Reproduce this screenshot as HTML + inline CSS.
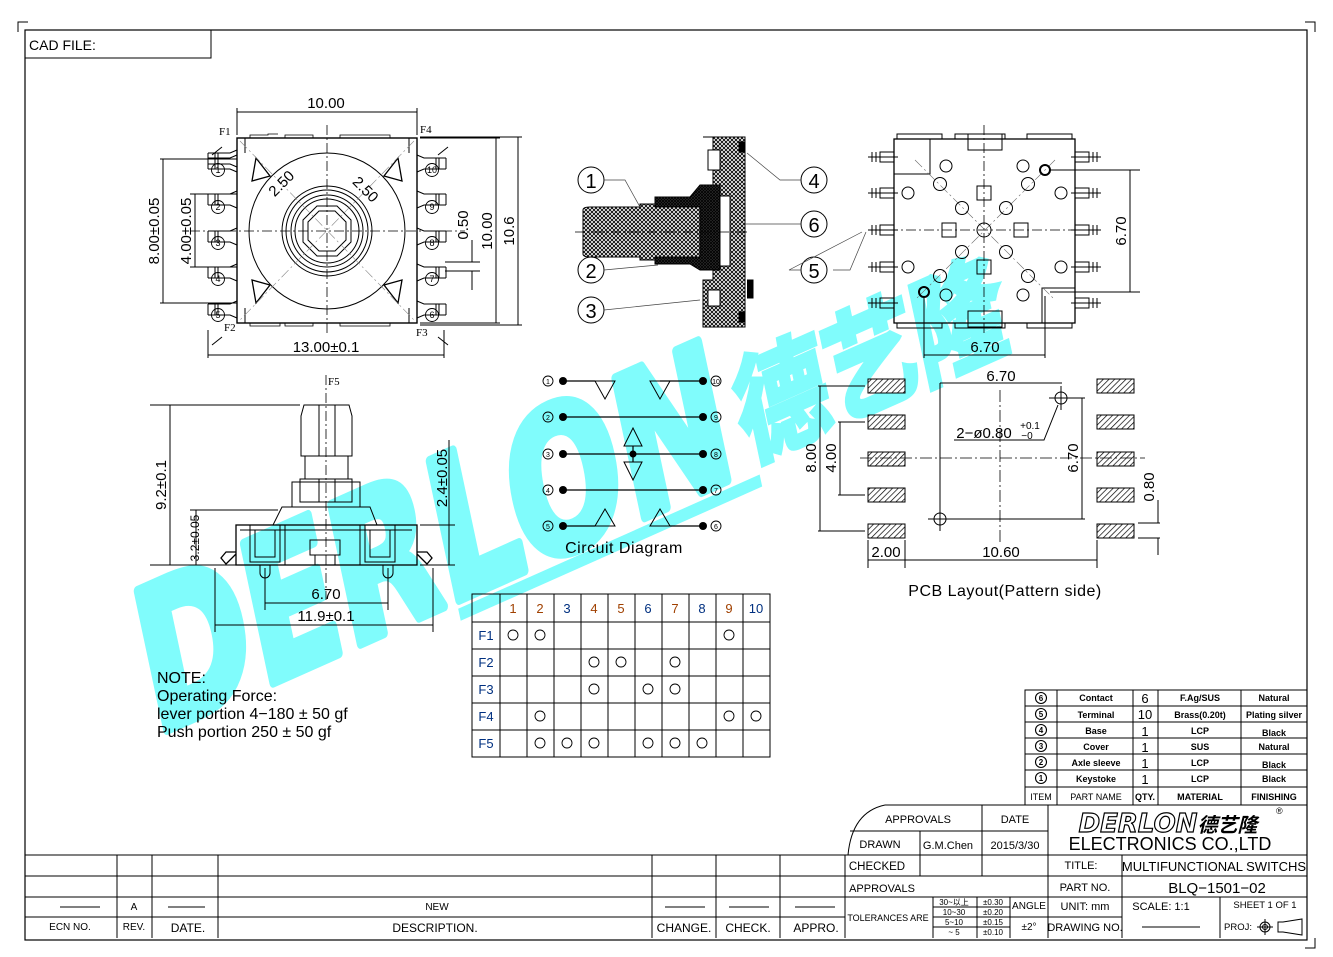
<!DOCTYPE html>
<html><head><meta charset="utf-8"><style>
html,body{margin:0;padding:0;background:#fff}
svg{display:block}
text{font-family:"Liberation Sans","Noto Sans CJK SC",sans-serif;fill:#000}
.s{font-family:"Liberation Serif",serif}
</style></head><body>
<svg width="1333" height="957" viewBox="0 0 1333 957" xmlns="http://www.w3.org/2000/svg">
<defs>
<pattern id="xh" width="4" height="4" patternUnits="userSpaceOnUse">
<rect width="4" height="4" fill="#fff"/><path d="M0 0L4 4M4 0L0 4" stroke="#000" stroke-width="0.9"/></pattern>
<pattern id="xd" width="3" height="3" patternUnits="userSpaceOnUse">
<rect width="3" height="3" fill="#333"/><path d="M0 0L3 3M3 0L0 3" stroke="#000" stroke-width="0.8"/></pattern>
<pattern id="dh" width="4" height="4" patternUnits="userSpaceOnUse" patternTransform="rotate(45)">
<rect width="4" height="4" fill="#fff"/><line x1="0" y1="0" x2="0" y2="4" stroke="#000" stroke-width="1.4"/></pattern>
</defs>

<!-- watermark -->
<g transform="translate(155,735) rotate(-24) skewX(-12)">
<text x="0" y="0" font-size="190" font-weight="bold" textLength="640" lengthAdjust="spacingAndGlyphs" style="fill:#80fcfc;stroke:#80fcfc;stroke-width:10;stroke-linejoin:round;font-family:'DejaVu Sans',sans-serif">DERLON</text>
<text x="650" y="-10" font-size="115" font-weight="bold" textLength="290" lengthAdjust="spacingAndGlyphs" style="fill:#80fcfc;stroke:#80fcfc;stroke-width:5;font-family:'Noto Sans CJK SC',sans-serif">德艺隆</text>
<rect x="330" y="8" width="330" height="12" fill="#80fcfc"/>
</g>

<g fill="none" stroke="#000" stroke-width="1">
<rect x="25" y="30" width="1282" height="910" stroke-width="1.2"/>
<path d="M18 32V22H28M1305 22H1315V32M1315 938V948H1305"/>
<rect x="25" y="30" width="186" height="28"/>
</g>
<text x="29" y="50" font-size="14">CAD  FILE:</text>

<!-- TOP VIEW -->
<g fill="none" stroke="#000" stroke-width="1">
<rect x="237" y="138" width="180" height="185" stroke-width="1.4"/>
<path d="M245 138v15 M409 138v15 M245 323v-15 M409 323v-15" />
<path d="M250 138v-3h18v-1h10 M285 138v-3h28v3 M340 138v-3h50v3 M250 323v3h30v-3 M285 323v3h28v-3 M340 323v3h50v-3" stroke-width="0.8"/>
<circle cx="327" cy="231" r="78"/>
<circle cx="327" cy="231" r="45"/><circle cx="327" cy="231" r="41"/><circle cx="327" cy="231" r="36"/><circle cx="327" cy="231" r="32"/>
<polygon points="317,206 337,206 351,220 351,242 337,256 317,256 303,242 303,220"/>
<polygon points="319,211 335,211 346,222 346,240 335,251 319,251 308,240 308,222"/>
<path d="M256 158l14 18-18 5z M398 158l-14 18 18 5z M256 303l14-18-18-5z M398 303l-14-18 18-5z" stroke-width="1.3"/>
<path d="M240 141L414 320M414 141L240 320" stroke="#888" stroke-width="0.6" stroke-dasharray="10 3 2 3"/>
<path d="M327 125V335M190 231H465" stroke-dasharray="10 3 2 3" stroke-width="0.8"/>
<g id="pl">
<path d="M208 153h22l7-3 M208 164h22l7 3 M208 153v11 M215 153v11 M218 153v11"/>
</g>
<use href="#pl" y="5"/><use href="#pl" y="41"/><use href="#pl" y="78"/><use href="#pl" y="114"/><use href="#pl" y="151"/>
<g transform="translate(654,0) scale(-1,1)">
<use href="#pl" y="5"/><use href="#pl" y="41"/><use href="#pl" y="78"/><use href="#pl" y="114"/><use href="#pl" y="151"/>
</g>
<g stroke-width="0.9">
<circle cx="218" cy="170" r="6.5"/><circle cx="218" cy="207" r="6.5"/><circle cx="218" cy="243" r="6.5"/><circle cx="218" cy="279" r="6.5"/><circle cx="218" cy="315" r="6.5"/>
<circle cx="432" cy="170" r="6.5"/><circle cx="432" cy="207" r="6.5"/><circle cx="432" cy="243" r="6.5"/><circle cx="432" cy="279" r="6.5"/><circle cx="432" cy="315" r="6.5"/>
</g>
<path d="M237 135V108M417 135V108M237 112H417 M208 330V358M444 330V358M208 355H444"/>
<path d="M160 159H237M160 303H237M163 159V303M190 194H237M190 267H237M195 194V267"/>
<path d="M420 138H500M420 323H500M496 138V323M420 137H522M420 325H522M518 137V325"/>
<path d="M445 262H480M445 271H480M472 240V262M472 271V290"/>
<path d="M212 155l10-8M438 155l10-8M212 345l10-8M438 337l10 8"/>
</g>
<g class="s" font-size="11">
<text class="s" x="219" y="135">F1</text><text class="s" x="420" y="133">F4</text>
<text class="s" x="224" y="331">F2</text><text class="s" x="416" y="336">F3</text>
</g>
<g font-size="9" text-anchor="middle">
<text x="218" y="173">1</text><text x="218" y="210">2</text><text x="218" y="246">3</text><text x="218" y="282">4</text><text x="218" y="318">5</text>
<text x="432" y="173">10</text><text x="432" y="210">9</text><text x="432" y="246">8</text><text x="432" y="282">7</text><text x="432" y="318">6</text>
</g>
<g font-size="15" text-anchor="middle">
<text x="326" y="108">10.00</text>
<text x="326" y="352">13.00±0.1</text>
<text transform="translate(159,231) rotate(-90)">8.00±0.05</text>
<text transform="translate(191,231) rotate(-90)">4.00±0.05</text>
<text transform="translate(468,225) rotate(-90)">0.50</text>
<text transform="translate(492,231) rotate(-90)">10.00</text>
<text transform="translate(514,231) rotate(-90)">10.6</text>
<text transform="translate(285,187) rotate(-45)">2.50</text>
<text transform="translate(362,193) rotate(45)">2.50</text>
</g>

<!-- SECTION VIEW -->
<g stroke="#000" stroke-width="1">
<path d="M703 137H745V327H703V280H713V267H720V197H713V137Z" fill="url(#xh)"/>
<rect x="708" y="150" width="12" height="20" fill="#fff"/><rect x="708" y="290" width="12" height="16" fill="#fff"/>
<path d="M583 210Q583 207 590 207H640V204H720V260H640V257H590Q583 257 583 254Z" fill="url(#xh)"/>
<path d="M655 197H690L700 185H720V270H700L690 264H655V257H700V207H655Z" fill="url(#xd)"/>
<rect x="720" y="196" width="10" height="70" fill="#fff"/>
<path d="M745 142h-6v10h6M745 312h-6v10h6M747 280h6v18h-6"/>
<path d="M575 232H750" stroke-dasharray="10 3 2 3" stroke-width="0.7"/>
</g>
<g fill="none" stroke="#000" stroke-width="1">
<circle cx="591" cy="180" r="13"/><circle cx="591" cy="270" r="13"/><circle cx="591" cy="310" r="13"/>
<circle cx="814" cy="180" r="13"/><circle cx="814" cy="224" r="13"/><circle cx="814" cy="270" r="13"/>
</g>
<g fill="none" stroke="#444" stroke-width="0.7">
<path d="M604 180H625L640 207M604 270L658 265M604 310L700 300M801 180H780L747 153M801 224H745M801 270H789L862 232"/>
</g>
<g font-size="20" text-anchor="middle">
<text x="591" y="188">1</text><text x="591" y="278">2</text><text x="591" y="318">3</text>
<text x="814" y="188">4</text><text x="814" y="232">6</text><text x="814" y="278">5</text>
</g>

<!-- BOTTOM VIEW -->
<g fill="none" stroke="#000" stroke-width="1">
<rect x="894" y="139" width="181" height="184" stroke-width="1.3"/>
<path d="M897 139v-5h45v5M955 139v-5h50v5M1027 139v-5h45v5M897 323v5h45v-5M955 323v5h50v-5M1027 323v5h45v-5"/>
<path d="M894 174H930V139M1075 288H1042V323"/>
<rect x="968" y="134" width="34" height="16"/><rect x="968" y="311" width="34" height="16"/>
<path d="M984 125V335M870 230H1100" stroke-dasharray="10 3 2 3" stroke-width="0.8"/>
<path d="M915 160L1055 300M1055 160L915 300" stroke="#666" stroke-width="0.6" stroke-dasharray="10 3 2 3"/>
<circle cx="984" cy="230" r="7"/>
<circle cx="940" cy="184" r="6.5"/><circle cx="962" cy="208" r="6.5"/><circle cx="1006" cy="208" r="6.5"/><circle cx="1028" cy="184" r="6.5"/>
<circle cx="962" cy="252" r="6.5"/><circle cx="940" cy="276" r="6.5"/><circle cx="1006" cy="252" r="6.5"/><circle cx="1028" cy="276" r="6.5"/>
<circle cx="946" cy="166" r="6"/><circle cx="1023" cy="166" r="6"/><circle cx="946" cy="295" r="6"/><circle cx="1023" cy="295" r="6"/>
<circle cx="908" cy="193" r="6"/><circle cx="1061" cy="193" r="6"/><circle cx="908" cy="267" r="6"/><circle cx="1061" cy="267" r="6"/>
<circle cx="1045" cy="170" r="5" stroke-width="2"/><circle cx="924" cy="292" r="5" stroke-width="2"/>
<rect x="977" y="186" width="14" height="14"/><rect x="977" y="260" width="14" height="14"/>
<rect x="942" y="223" width="14" height="14"/><rect x="1014" y="223" width="14" height="14"/>
<g id="pb"><path d="M894 152h-14v10h14 M868 157h30 M872 152v10 M876 152v10 M880 152v10"/></g>
<use href="#pb" y="0"/><use href="#pb" y="36"/><use href="#pb" y="73"/><use href="#pb" y="110"/><use href="#pb" y="146"/>
<g transform="translate(1969,0) scale(-1,1)"><use href="#pb" y="0"/><use href="#pb" y="36"/><use href="#pb" y="73"/><use href="#pb" y="110"/><use href="#pb" y="146"/></g>
<path d="M1050 170H1140M1050 292H1140M1130 170V292M924 296V358M1045 296V358M924 355H1045"/>
<path d="M866 232L850 270H833" stroke="#444" stroke-width="0.7"/>
</g>
<g font-size="15" text-anchor="middle">
<text x="985" y="352">6.70</text>
<text transform="translate(1126,231) rotate(-90)">6.70</text>
</g>

<!-- SIDE VIEW -->
<g fill="none" stroke="#000" stroke-width="1">
<path d="M304 405H349L352 416V456H301V416Z"/>
<path d="M319 405V456M335 405V456M305 456V479H348V456M300 479H352V502H300Z M319 479V502M335 479V502"/>
<rect x="292" y="482" width="68" height="25"/>
<path d="M282 507H370L377 525H273Z"/>
<rect x="236" y="525" width="181" height="40" stroke-width="1.3"/>
<path d="M240 530H412 M250 525v37h30v-37 M255 530v27h20v-27 M365 525v37h30v-37 M370 530v27h20v-27 M285 525v40 M360 525v40 M310 540h30v15h-30z M315 555v10 M335 555v10"/>
<path d="M260 565v8a5 5 0 0 0 10 0v-8 M383 565v8a5 5 0 0 0 10 0v-8"/>
<path d="M236 552h-10l-5 6 5 6 10-10 M417 552h10l5 6-5 6-10-10" stroke-width="1.3"/>
<path d="M326 375V600" stroke-dasharray="10 3 2 3" stroke-width="0.8"/>
<path d="M150 405H300M150 565H236M170 405V565M190 510H278M196 510V565M420 525H455M420 565H455M449 440V565"/>
<path d="M265 568V610M388 568V610M265 603H388M215 568V632M433 568V632M215 625H433"/>
</g>
<text class="s" x="328" y="385" font-size="11">F5</text>
<g font-size="15" text-anchor="middle">
<text transform="translate(166,485) rotate(-90)">9.2±0.1</text>
<text transform="translate(199,538) rotate(-90)" font-size="12">3.2±0.05</text>
<text transform="translate(447,478) rotate(-90)">2.4±0.05</text>
<text x="326" y="599">6.70</text>
<text x="326" y="621">11.9±0.1</text>
</g>

<!-- CIRCUIT -->
<g stroke="#000" stroke-width="1.2" fill="none">
<path d="M563 381H595 M660 381H703 M563 417H703 M563 454H703 M563 490H703 M563 526H595 M670 526H703"/>
<path d="M595 381H615L605 399Z M650 381H670L660 399Z M624 446H642L633 428Z M624 462H642L633 480Z M595 526H615L605 509Z M650 526H670L660 509Z" stroke-width="1"/>
<path d="M633 446V462"/>
</g>
<g fill="#000">
<circle cx="563" cy="381" r="4"/><circle cx="563" cy="417" r="4"/><circle cx="563" cy="454" r="4"/><circle cx="563" cy="490" r="4"/><circle cx="563" cy="526" r="4"/>
<circle cx="703" cy="381" r="4"/><circle cx="703" cy="417" r="4"/><circle cx="703" cy="454" r="4"/><circle cx="703" cy="490" r="4"/><circle cx="703" cy="526" r="4"/>
<circle cx="633" cy="454" r="3.5"/>
</g>
<g fill="none" stroke="#000" stroke-width="0.9">
<circle cx="548" cy="381" r="5"/><circle cx="548" cy="417" r="5"/><circle cx="548" cy="454" r="5"/><circle cx="548" cy="490" r="5"/><circle cx="548" cy="526" r="5"/>
<circle cx="716" cy="381" r="5"/><circle cx="716" cy="417" r="5"/><circle cx="716" cy="454" r="5"/><circle cx="716" cy="490" r="5"/><circle cx="716" cy="526" r="5"/>
</g>
<g font-size="7" text-anchor="middle">
<text x="548" y="384">1</text><text x="548" y="420">2</text><text x="548" y="457">3</text><text x="548" y="493">4</text><text x="548" y="529">5</text>
<text x="716" y="384">10</text><text x="716" y="420">9</text><text x="716" y="457">8</text><text x="716" y="493">7</text><text x="716" y="529">6</text>
</g>
<text x="624" y="553" font-size="16" text-anchor="middle" letter-spacing="0.5">Circuit  Diagram</text>

<!-- PCB LAYOUT -->
<g stroke="#000" stroke-width="1">
<g fill="url(#dh)">
<rect x="868" y="379" width="37" height="14"/><rect x="868" y="415" width="37" height="14"/><rect x="868" y="452" width="37" height="14"/><rect x="868" y="488" width="37" height="14"/><rect x="868" y="524" width="37" height="14"/>
<rect x="1097" y="379" width="37" height="14"/><rect x="1097" y="415" width="37" height="14"/><rect x="1097" y="452" width="37" height="14"/><rect x="1097" y="488" width="37" height="14"/><rect x="1097" y="524" width="37" height="14"/>
</g>
<g fill="none">
<path d="M860 458H1145M1000 390V545" stroke-dasharray="12 3 2 3" stroke-width="0.8"/>
<path d="M940 383V520M940 383H1062M940 519H1085M1062 398H1085M1082 398V519"/>
<circle cx="940" cy="519" r="6"/><path d="M928 519H952M940 507V531"/>
<circle cx="1061" cy="398" r="6"/><path d="M1049 398H1073M1061 386V410"/>
<path d="M1058 405L1044 440H954"/>
<path d="M865 386H818M820 386V531M865 531H818M865 422H838M840 422V495M865 495H838"/>
<path d="M868 540V568M905 540V568M1097 540V568M868 560H905M905 560H1097"/>
<path d="M1138 523H1160M1138 538H1160M1158 500V523M1158 538V555"/>
</g>
</g>
<g font-size="15" text-anchor="middle">
<text x="1001" y="381">6.70</text>
<text x="984" y="438">2−ø0.80</text>
<text x="1030" y="429" font-size="10">+0.1</text>
<text x="1027" y="439" font-size="10">−0</text>
<text transform="translate(816,458) rotate(-90)">8.00</text>
<text transform="translate(836,458) rotate(-90)">4.00</text>
<text transform="translate(1078,458) rotate(-90)">6.70</text>
<text transform="translate(1154,487) rotate(-90)">0.80</text>
<text x="886" y="557">2.00</text>
<text x="1001" y="557">10.60</text>
<text x="1005" y="596" font-size="16" letter-spacing="0.5">PCB  Layout(Pattern  side)</text>
</g>

<!-- SWITCH TABLE -->
<g stroke="#000" stroke-width="1" fill="none">
<rect x="472" y="594" width="298" height="163"/>
<path d="M472 622H770M472 649H770M472 676H770M472 703H770M472 730H770"/>
<path d="M500 594V757M527 594V757M554 594V757M581 594V757M608 594V757M635 594V757M662 594V757M689 594V757M716 594V757M743 594V757"/>
<g stroke-width="0.9">
<circle cx="513" cy="635" r="5"/><circle cx="540" cy="635" r="5"/><circle cx="729" cy="635" r="5"/>
<circle cx="594" cy="662" r="5"/><circle cx="621" cy="662" r="5"/><circle cx="675" cy="662" r="5"/>
<circle cx="594" cy="689" r="5"/><circle cx="648" cy="689" r="5"/><circle cx="675" cy="689" r="5"/>
<circle cx="540" cy="716" r="5"/><circle cx="729" cy="716" r="5"/><circle cx="756" cy="716" r="5"/>
<circle cx="540" cy="743" r="5"/><circle cx="567" cy="743" r="5"/><circle cx="594" cy="743" r="5"/><circle cx="648" cy="743" r="5"/><circle cx="675" cy="743" r="5"/><circle cx="702" cy="743" r="5"/>
</g>
</g>
<g font-size="13" text-anchor="middle" style="font-family:'Liberation Serif',serif">
<text x="513" y="613" style="fill:#a04000">1</text><text x="540" y="613" style="fill:#a04000">2</text><text x="567" y="613" style="fill:#003080">3</text><text x="594" y="613" style="fill:#a04000">4</text><text x="621" y="613" style="fill:#a04000">5</text><text x="648" y="613" style="fill:#003080">6</text><text x="675" y="613" style="fill:#a04000">7</text><text x="702" y="613" style="fill:#003080">8</text><text x="729" y="613" style="fill:#a04000">9</text><text x="756" y="613" style="fill:#003080">10</text>
<text x="486" y="640" style="fill:#003080">F1</text><text x="486" y="667" style="fill:#003080">F2</text><text x="486" y="694" style="fill:#003080">F3</text><text x="486" y="721" style="fill:#003080">F4</text><text x="486" y="748" style="fill:#003080">F5</text>
</g>

<!-- NOTE -->
<g font-size="16">
<text x="157" y="683">NOTE:</text>
<text x="157" y="701">Operating  Force:</text>
<text x="157" y="719">lever  portion  4−180  ±  50  gf</text>
<text x="157" y="737">Push  portion  250  ±  50  gf</text>
</g>

<!-- BOM -->
<g stroke="#000" stroke-width="1" fill="none">
<rect x="1025" y="690" width="282" height="115"/>
<path d="M1025 706H1307M1025 722H1307M1025 738H1307M1025 754H1307M1025 770H1307M1025 787H1307"/>
<path d="M1057 690V805M1133 690V805M1158 690V805M1241 690V805"/>
</g>
<g font-size="9" text-anchor="middle" font-weight="bold">
<text x="1096" y="701">Contact</text><text x="1096" y="718">Terminal</text><text x="1096" y="734">Base</text><text x="1096" y="750">Cover</text><text x="1096" y="766">Axle  sleeve</text><text x="1096" y="782">Keystoke</text><text x="1096" y="800" font-weight="normal">PART  NAME</text>
<text x="1145" y="703" font-size="13" font-weight="normal">6</text><text x="1145" y="719" font-size="13" font-weight="normal">10</text><text x="1145" y="736" font-size="13" font-weight="normal">1</text><text x="1145" y="752" font-size="13" font-weight="normal">1</text><text x="1145" y="768" font-size="13" font-weight="normal">1</text><text x="1145" y="784" font-size="13" font-weight="normal">1</text><text x="1145" y="800">QTY.</text>
<text x="1200" y="701">F.Ag/SUS</text><text x="1200" y="718">Brass(0.20t)</text><text x="1200" y="734">LCP</text><text x="1200" y="750">SUS</text><text x="1200" y="766">LCP</text><text x="1200" y="782">LCP</text><text x="1200" y="800">MATERIAL</text>
<text x="1274" y="701">Natural</text><text x="1274" y="718">Plating  silver</text><text x="1274" y="736">Black</text><text x="1274" y="750">Natural</text><text x="1274" y="768">Black</text><text x="1274" y="782">Black</text><text x="1274" y="800">FINISHING</text>
<text x="1041" y="800" font-weight="normal">ITEM</text>
</g>
<g fill="none" stroke="#000" stroke-width="1.1">
<circle cx="1041" cy="698" r="5.5"/><circle cx="1041" cy="714" r="5.5"/><circle cx="1041" cy="730" r="5.5"/><circle cx="1041" cy="746" r="5.5"/><circle cx="1041" cy="762" r="5.5"/><circle cx="1041" cy="778" r="5.5"/>
</g>
<g font-size="8" text-anchor="middle" font-weight="bold">
<text x="1041" y="701">6</text><text x="1041" y="717">5</text><text x="1041" y="733">4</text><text x="1041" y="749">3</text><text x="1041" y="765">2</text><text x="1041" y="781">1</text>
</g>

<!-- TITLE BLOCK -->
<g stroke="#000" stroke-width="1" fill="none">
<path d="M885 805H1048V855 M848 855Q852 812 885 805"/>
<path d="M850 831H1048M920 831V876M982 805V876M1048 805V938M1048 855H1307"/>
<path d="M25 855H1048M25 876H1307M25 897H1307M25 917H845M1048 917H1122"/>
<path d="M117 855V938M152 855V938M218 855V938M652 855V938M716 855V938M780 855V938M845 855V938"/>
<path d="M1122 855V938M1220 897V938M933 897V938M977 897V938M1010 897V938M933 907H1010M933 917H1010M933 927H1010"/>
<path d="M1010 917H1048"/>
<path d="M60 907H100M168 907H205M665 907H705M729 907H769M795 907H835M1142 927H1200"/>
</g>
<g font-size="11" text-anchor="middle">
<text x="918" y="823">APPROVALS</text><text x="1015" y="823">DATE</text>
<text x="880" y="848">DRAWN</text><text x="948" y="849">G.M.Chen</text><text x="1015" y="849">2015/3/30</text>
<text x="877" y="870" font-size="11.5">CHECKED</text><text x="882" y="892">APPROVALS</text>
<text x="888" y="921" font-size="9">TOLERANCES  ARE</text>
<text x="954" y="905" font-size="8">30~以上</text><text x="954" y="915" font-size="8">10~30</text><text x="954" y="925" font-size="8">5~10</text><text x="954" y="935" font-size="8">~ 5</text>
<text x="993" y="905" font-size="8">±0.30</text><text x="993" y="915" font-size="8">±0.20</text><text x="993" y="925" font-size="8">±0.15</text><text x="993" y="935" font-size="8">±0.10</text>
<text x="1029" y="909" font-size="10">ANGLE</text><text x="1029" y="930" font-size="10">±2°</text>
<text x="1081" y="869">TITLE:</text><text x="1085" y="891">PART  NO.</text>
<text x="1085" y="910">UNIT:  mm</text><text x="1085" y="931">DRAWING  NO.</text>
<text x="1214" y="871" font-size="13">MULTIFUNCTIONAL  SWITCHS</text>
<text x="1217" y="893" font-size="15">BLQ−1501−02</text>
<text x="1161" y="910">SCALE:    1:1</text>
<text x="1265" y="908" font-size="9.5">SHEET   1  OF  1</text>
<text x="1238" y="930" font-size="9.5">PROJ:</text>
<text x="1170" y="850" font-size="18">ELECTRONICS  CO.,LTD</text>
<text x="70" y="930" font-size="10">ECN  NO.</text><text x="134" y="930" font-size="10">REV.</text><text x="188" y="932" font-size="12">DATE.</text>
<text x="435" y="932" font-size="12">DESCRIPTION.</text><text x="684" y="932" font-size="12">CHANGE.</text><text x="748" y="932" font-size="12">CHECK.</text><text x="816" y="932" font-size="12">APPRO.</text>
<text x="134" y="910" font-size="10">A</text><text x="437" y="910" font-size="10">NEW</text>
</g>
<g fill="none" stroke="#000" stroke-width="1">
<circle cx="1265" cy="927" r="5"/><circle cx="1265" cy="927" r="2.5"/><path d="M1257 927H1273M1265 919V935M1278 922H1283L1302 919V935L1283 932H1278Z"/>
</g>
<text x="1168" y="832" font-size="26" font-weight="bold" font-style="italic" text-anchor="middle" style="fill:#fff;stroke:#000;stroke-width:1.2;font-family:'DejaVu Sans',sans-serif">DERLON<tspan style="font-family:'Noto Sans CJK SC',sans-serif;fill:#000;stroke:none" font-size="20">德艺隆</tspan></text>
<text x="1276" y="814" font-size="9">®</text>
</svg>
</body></html>
